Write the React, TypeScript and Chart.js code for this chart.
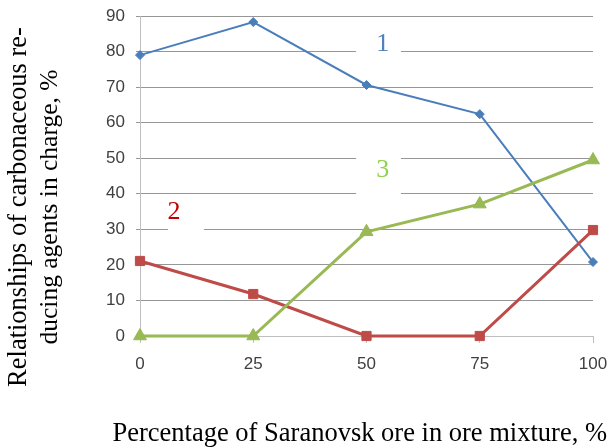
import React, { useEffect, useRef } from "react";
import { Chart, registerables } from "chart.js";

Chart.register(...registerables);

// ---- data ----
const xValues = [0, 25, 50, 75, 100];
const series1 = [79, 88.3, 70.6, 62.4, 20.8];
const series2 = [21.1, 11.8, 0, 0, 29.8];
const series3 = [0, 0, 29.3, 37.1, 49.5];
const yTicksMin = 0;
const yTicksMax = 90;
const yStep = 10;
const xStep = 25;
const yTitleLines = ["Relationships of carbonaceous re-", "ducing agents in charge, %"];
const xTitle = "Percentage of Saranovsk ore in ore mixture, %";
const curveNames = ["1", "2", "3"];

const BLUE = "#4a7ebb";
const RED = "#be4b48";
const GREEN = "#98b954";

const toPts = (ys: number[]) => ys.map((y, i) => ({ x: xValues[i], y }));

// label annotations (text anchor + white box, in data units)
const annotations = [
  { text: curveNames[0], color: "#4f81bd", x: 53.6, y: 82.1, box: [47.7, 57.6, 77, 86] },
  { text: curveNames[1], color: "#c00000", x: 7.5, y: 34.9, box: [6.2, 14.1, 28.1, 38.8] },
  { text: curveNames[2], color: "#92d050", x: 53.6, y: 46.7, box: [47.7, 57.6, 38.8, 52.9] },
];

const SERIF = "'Liberation Serif', 'Times New Roman', serif";
const SANS = "'Liberation Sans', Arial, sans-serif";

const annotationPlugin = {
  id: "annots",
  beforeDatasetsDraw(chart: any) {
    const { ctx, scales } = chart;
    const xs = scales.x;
    const ys = scales.y;
    ctx.save();
    for (const a of annotations) {
      const x0 = xs.getPixelForValue(a.box[0]);
      const x1 = xs.getPixelForValue(a.box[1]);
      const y0 = ys.getPixelForValue(a.box[3]);
      const y1 = ys.getPixelForValue(a.box[2]);
      ctx.fillStyle = "#ffffff";
      ctx.fillRect(x0, y0, x1 - x0, y1 - y0);
      ctx.fillStyle = a.color;
      ctx.font = `26px ${SERIF}`;
      ctx.textAlign = "center";
      ctx.textBaseline = "middle";
      ctx.fillText(a.text, xs.getPixelForValue(a.x), ys.getPixelForValue(a.y));
    }
    ctx.restore();
  },
  afterDraw(chart: any) {
    const { ctx, chartArea } = chart;
    ctx.save();
    ctx.fillStyle = "#000000";
    ctx.textAlign = "center";
    ctx.textBaseline = "alphabetic";
    // y title (rotated)
    ctx.translate(0, 207);
    ctx.rotate(-Math.PI / 2);
    ctx.font = `26.5px ${SERIF}`;
    ctx.fillText(yTitleLines[0], 0, 26);
    ctx.font = `25.5px ${SERIF}`;
    ctx.fillText(yTitleLines[1], 0, 57);
    ctx.restore();
    ctx.save();
    ctx.fillStyle = "#000000";
    ctx.font = `26.5px ${SERIF}`;
    ctx.textAlign = "right";
    ctx.textBaseline = "alphabetic";
    ctx.fillText(xTitle, chartArea.right + 14, 441);
    ctx.restore();
  },
};

export default function App() {
  const ref = useRef<HTMLCanvasElement | null>(null);
  useEffect(() => {
    if (!ref.current) return;
    const chart = new Chart(ref.current, {
      type: "line",
      data: {
        datasets: [
          {
            data: toPts(series1),
            borderColor: BLUE,
            backgroundColor: BLUE,
            borderWidth: 2,
            pointStyle: "rectRot",
            pointRadius: 4.5,
            pointBorderWidth: 1,
            tension: 0,
            clip: false,
            order: 3,
          },
          {
            data: toPts(series2),
            borderColor: RED,
            backgroundColor: RED,
            borderWidth: 3,
            pointStyle: "rect",
            pointRadius: 6.5,
            pointBorderWidth: 1,
            tension: 0,
            clip: false,
            order: 2,
          },
          {
            data: toPts(series3),
            borderColor: GREEN,
            backgroundColor: GREEN,
            borderWidth: 3,
            pointStyle: "triangle",
            pointRadius: 7.5,
            pointBorderWidth: 1,
            tension: 0,
            clip: false,
            order: 1,
          },
        ],
      },
      options: {
        responsive: false,
        animation: false,
        devicePixelRatio: 1,
        layout: { padding: { left: 0, right: 16, top: 16, bottom: 0 } },
        plugins: { legend: { display: false }, tooltip: { enabled: false }, title: { display: false } },
        scales: {
          x: {
            type: "linear",
            min: 0,
            max: 100,
            afterFit: (s: any) => {
              s.height = 111;
              s.paddingLeft = 0;
              s.paddingRight = 0;
            },
            ticks: {
              stepSize: xStep,
              color: "#404040",
              font: { family: SANS, size: 17 },
              padding: 11,
              maxRotation: 0,
            },
            grid: {
              drawOnChartArea: false,
              drawTicks: true,
              tickLength: 7,
              color: "#bfbfbf",
            },
            border: { display: true, color: "#bfbfbf" },
          },
          y: {
            min: yTicksMin,
            max: yTicksMax,
            afterFit: (s: any) => {
              s.width = 140;
              s.paddingTop = 0;
              s.paddingBottom = 0;
            },
            ticks: {
              stepSize: yStep,
              color: "#404040",
              font: { family: SANS, size: 17 },
              padding: 11,
            },
            grid: {
              color: (c: any) => (c.tick && c.tick.value === 0 ? "#bfbfbf" : "#969696"),
              tickLength: 4,
              drawTicks: true,
            },
            border: { display: true, color: "#bfbfbf" },
          },
        },
      },
      plugins: [annotationPlugin],
    });
    return () => chart.destroy();
  }, []);
  return (
    <div style={{ position: "fixed", left: 0, top: 0, width: 609, height: 447, background: "#fff" }}>
      <canvas ref={ref} width={609} height={447} />
    </div>
  );
}
